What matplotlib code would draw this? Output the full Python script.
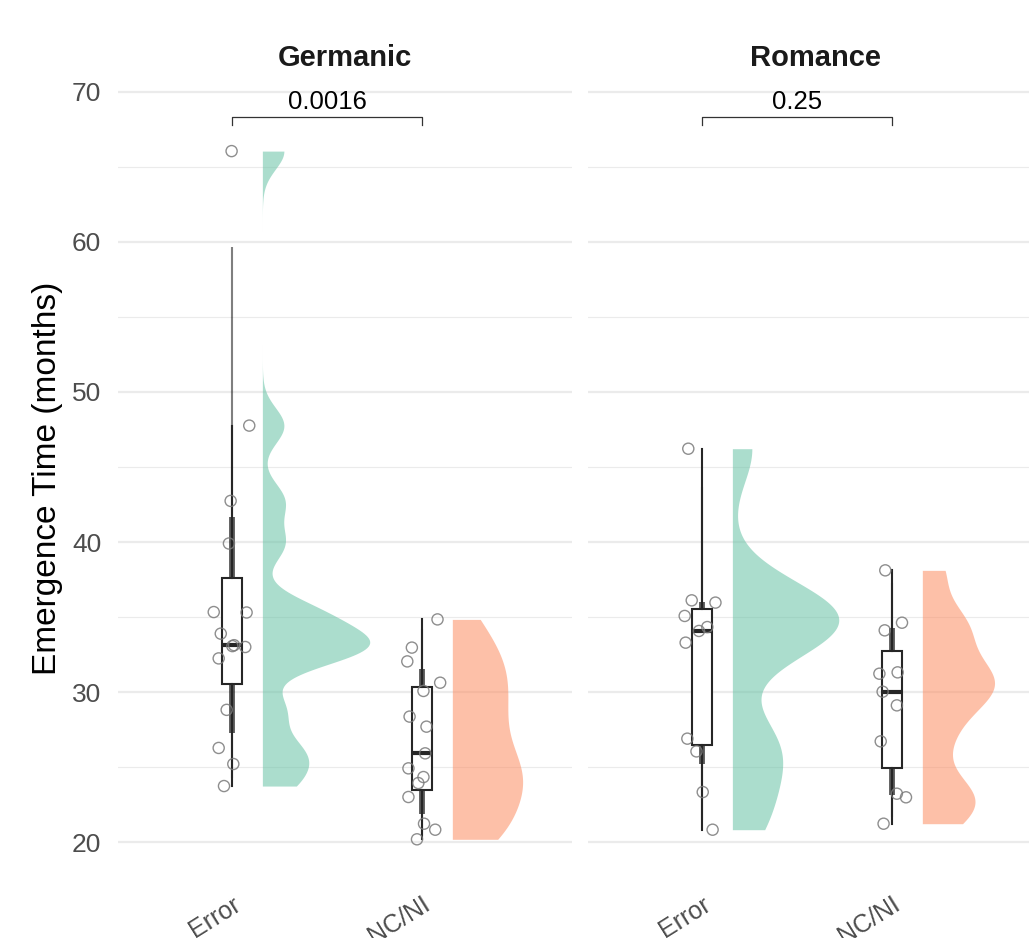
import numpy as np
import matplotlib.pyplot as plt
from matplotlib.transforms import ScaledTranslation

plt.rcParams['font.family'] = ['Liberation Sans', 'DejaVu Sans']

languages = ["Germanic", "Romance"]
conditions = ["Error", "NC/NI"]
p_values = ["0.0016", "0.25"]

# emergence times (months)
germanic_error = [66.06, 47.76, 42.74, 39.9, 35.33, 35.3, 33.89, 33.0, 33.06, 33.12,
                  32.24, 28.81, 26.27, 25.20, 23.73]
germanic_ncni = [34.84, 32.96, 32.04, 30.62, 30.07, 28.36, 27.69, 25.91, 24.91, 24.33,
                 23.93, 23.0, 21.22, 20.82, 20.18]
romance_error = [46.22, 36.11, 35.96, 35.07, 34.33, 34.07, 33.29, 26.89, 26.04, 23.33, 20.82]
romance_ncni = [38.11, 34.62, 34.11, 31.22, 31.31, 30.02, 29.11, 26.71, 23.22, 22.98, 21.22]

# horizontal jitter of each point (category units)
germanic_error_jit = [-0.002, 0.091, -0.007, -0.016, -0.096, 0.077, -0.059, 0.070, 0.002, 0.011,
                      -0.070, -0.028, -0.070, 0.007, -0.042]
germanic_ncni_jit = [0.082, -0.053, -0.077, 0.096, 0.008, -0.065, 0.024, 0.017, -0.071, 0.008,
                     -0.019, -0.071, 0.011, 0.070, -0.026]
romance_error_jit = [-0.072, -0.054, 0.071, -0.091, 0.028, -0.016, -0.086, -0.077, -0.029, 0.004, 0.056]
romance_ncni_jit = [-0.035, 0.053, -0.038, -0.066, 0.030, -0.049, 0.026, -0.059, 0.026, 0.074, -0.044]

values = {"Germanic": [germanic_error, germanic_ncni], "Romance": [romance_error, romance_ncni]}
jitter = {"Germanic": [germanic_error_jit, germanic_ncni_jit], "Romance": [romance_error_jit, romance_ncni_jit]}

colors = ['#66C2A5', '#FC8D62']
slab_width = {"Germanic": [0.565, 0.37], "Romance": [0.56, 0.38]}
bandwidth = {"Germanic": [1.2, 2.0], "Romance": [2.3, 1.6]}


def half_density(ax, vals, pos, color, width, bw):
    v = np.asarray(vals)
    grid = np.linspace(v.min(), v.max(), 400)
    dens = np.exp(-0.5 * ((grid[:, None] - v[None, :]) / bw) ** 2).sum(axis=1)
    dens = dens / dens.max() * width
    ax.fill_betweenx(grid, pos + 0.16, pos + 0.16 + dens, color=color, alpha=0.55, lw=0, zorder=1)


fig = plt.figure(figsize=(10.29, 9.38), dpi=100)
W, H = 1029, 938
ax_top, ax_bot = 72.5, 879.5
axes = [fig.add_axes([118 / W, 1 - ax_bot / H, 454 / W, (ax_bot - ax_top) / H]),
        fig.add_axes([588 / W, 1 - ax_bot / H, 454 / W, (ax_bot - ax_top) / H])]

for ax, lang, pv in zip(axes, languages, p_values):
    data = values[lang]
    for i, vals in enumerate(data):
        pos = i + 1
        half_density(ax, vals, pos, colors[i], slab_width[lang][i], bandwidth[lang][i])
        lo95, hi95 = np.quantile(vals, [0.025, 0.975])
        lo66, hi66 = np.quantile(vals, [0.17, 0.83])
        ax.plot([pos, pos], [lo95, hi95], color='black', lw=1.5, alpha=0.5,
                solid_capstyle='butt', zorder=2)
        ax.plot([pos, pos], [lo66, hi66], color='black', lw=4.2, alpha=0.65,
                solid_capstyle='butt', zorder=2)
        ax.scatter(pos + np.asarray(jitter[lang][i]), vals, s=64, facecolors='none',
                   edgecolors='#7a7a7a', linewidths=1.0, alpha=0.85, zorder=5)

    ax.boxplot(data, positions=[1, 2], widths=0.105, patch_artist=True,
               showfliers=False, showcaps=False, zorder=3,
               boxprops=dict(facecolor='white', edgecolor='#262626', lw=1.5),
               whiskerprops=dict(color='#262626', lw=1.5),
               medianprops=dict(color='#262626', lw=3))

    # significance bracket
    ax.plot([1, 1, 2, 2], [67.8, 68.33, 68.33, 67.8], color='#333333', lw=0.9, zorder=4)
    ax.text(1.5, 69.3, pv, ha='center', va='center', fontsize=18.5, color='black')

    ax.set_xlim(0.4, 2.79)
    ax.set_ylim(17.5, 71.3)
    ax.set_yticks(range(20, 71, 10))
    ax.set_yticks(range(25, 70, 10), minor=True)
    ax.grid(axis='y', which='major', color='#EBEBEB', lw=1.6)
    ax.grid(axis='y', which='minor', color='#EBEBEB', lw=0.8)
    ax.set_axisbelow(True)
    for s in ax.spines.values():
        s.set_visible(False)
    ax.tick_params(length=0, which='both', labelsize=19, labelcolor='#4D4D4D', pad=12)
    ax.set_xticks([1, 2])
    ax.set_xticklabels(conditions, rotation=32, ha='right', va='top', rotation_mode='anchor',
                       fontsize=18)
    for lab in ax.get_xticklabels():
        lab.set_transform(lab.get_transform() + ScaledTranslation(6 / 100, 0, fig.dpi_scale_trans))
    ax.tick_params(axis='x', pad=9)
    fig.text((ax.get_position().x0 + ax.get_position().x1) / 2, 1 - 58 / H, lang,
             ha='center', va='center', fontsize=21, fontweight='bold', color='#1A1A1A')

axes[1].tick_params(axis='y', labelleft=False)
fig.text(48 / W, 1 - 478 / H, "Emergence Time (months)", rotation=90,
         ha='center', va='center', fontsize=24, color='black')

fig.savefig("out.png", dpi=100)
